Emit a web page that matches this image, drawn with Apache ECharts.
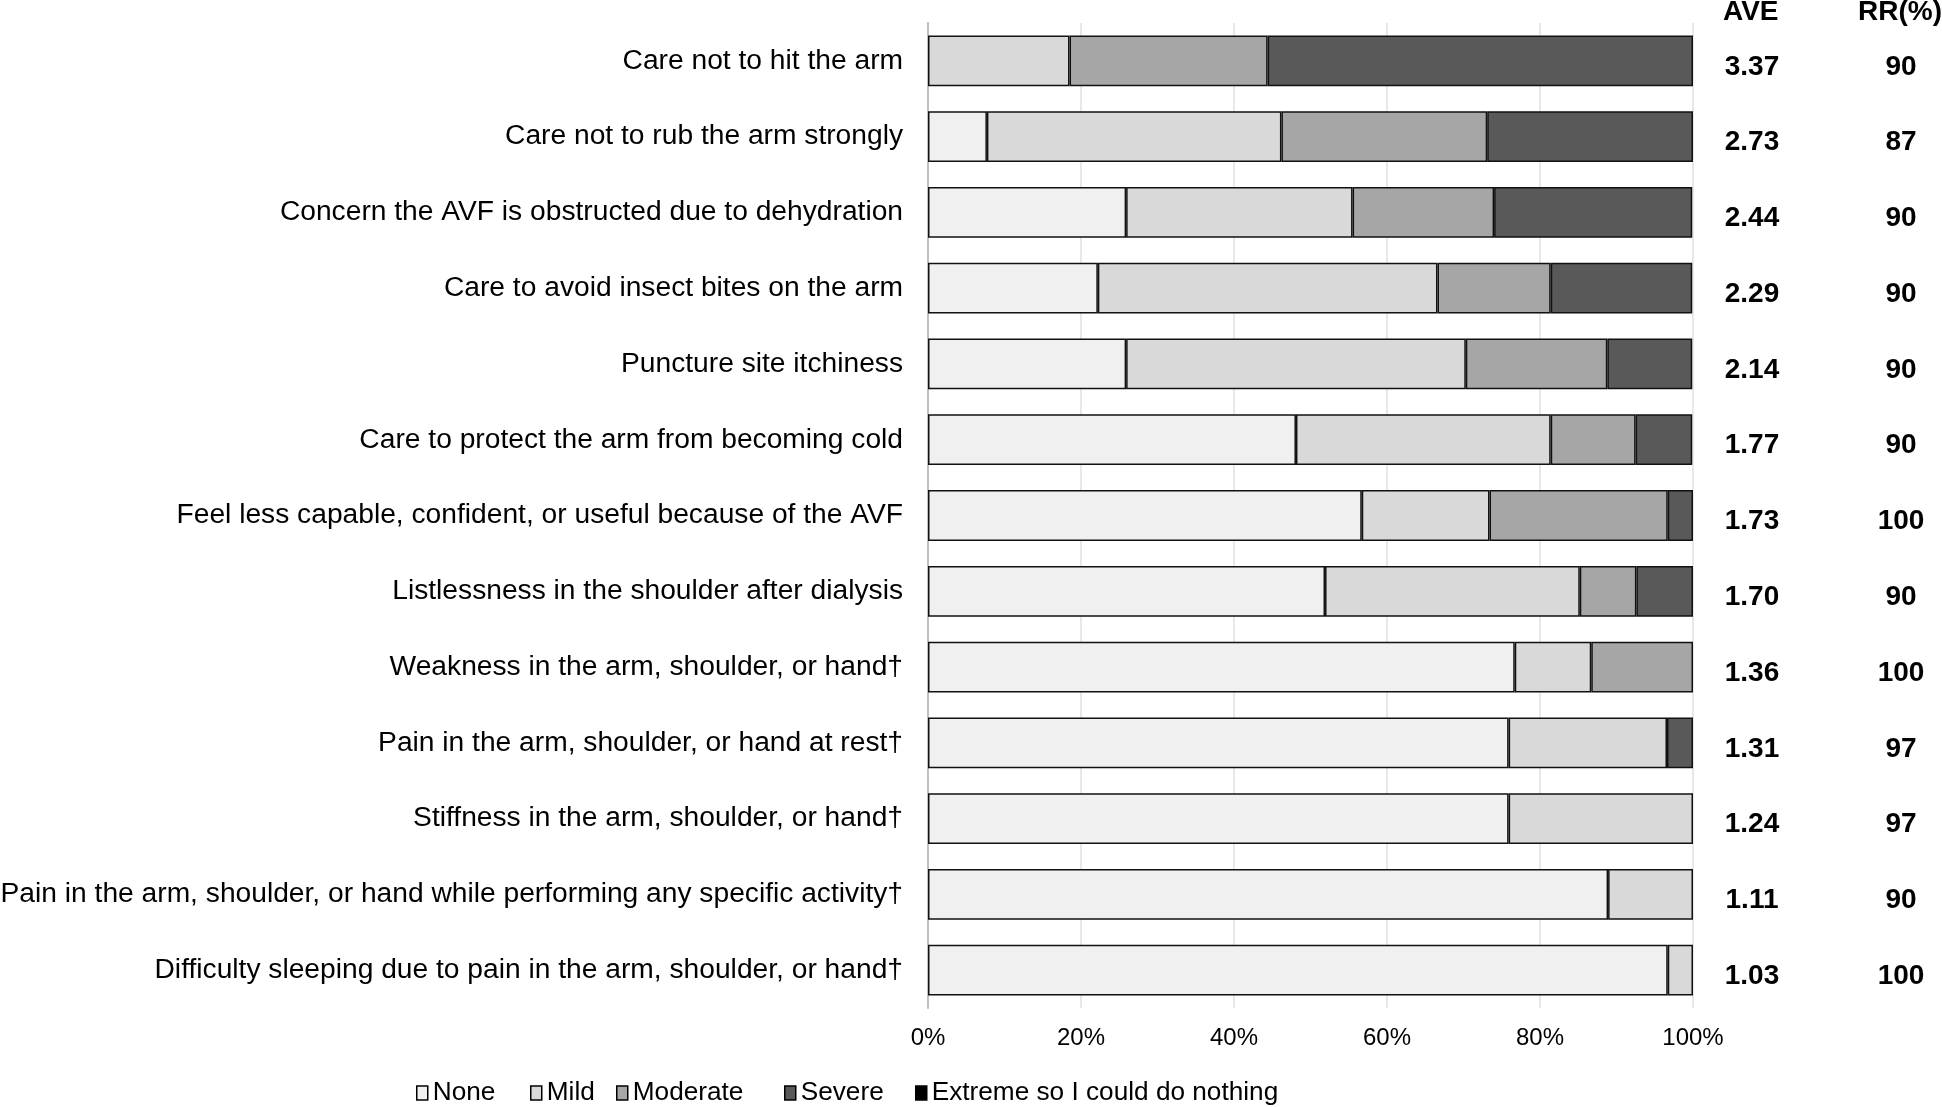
<!DOCTYPE html>
<html>
<head>
<meta charset="utf-8">
<script src="https://cdn.jsdelivr.net/npm/echarts@6/dist/echarts.min.js"></script>
<style>
html,body{margin:0;padding:0;background:#fff;}
#chart{width:1942px;height:1107px;}
</style>
</head>
<body>
<div id="chart"></div>
<script>
const categories = [
  "Care not to hit the arm",
  "Care not to rub the arm strongly",
  "Concern the AVF is obstructed due to dehydration",
  "Care to avoid insect bites on the arm",
  "Puncture site itchiness",
  "Care to protect the arm from becoming cold",
  "Feel less capable, confident, or useful because of the AVF",
  "Listlessness in the shoulder after dialysis",
  "Weakness in the arm, shoulder, or hand\u2020",
  "Pain in the arm, shoulder, or hand at rest\u2020",
  "Stiffness in the arm, shoulder, or hand\u2020",
  "Pain in the arm, shoulder, or hand while performing any specific activity\u2020",
  "Difficulty sleeping due to pain in the arm, shoulder, or hand\u2020"
];
const noneVals     = [0, 7.7, 25.9, 22.2, 25.9, 48.1, 56.7, 51.9, 76.7, 75.9, 75.9, 88.9, 96.7];
const mildVals     = [18.5, 38.5, 29.6, 44.4, 44.4, 33.3, 16.7, 33.3, 10.0, 20.7, 24.1, 11.1, 3.3];
const moderateVals = [25.9, 26.9, 18.5, 14.8, 18.5, 11.1, 23.3, 7.4, 13.3, 0, 0, 0, 0];
const severeVals   = [55.6, 26.9, 25.9, 18.5, 11.1, 7.4, 3.3, 7.4, 0, 3.4, 0, 0, 0];
const extremeVals  = [0, 0, 0, 0, 0, 0, 0, 0, 0, 0, 0, 0, 0];
const aveVals = ["3.37", "2.73", "2.44", "2.29", "2.14", "1.77", "1.73", "1.70", "1.36", "1.31", "1.24", "1.11", "1.03"];
const rrVals  = ["90", "87", "90", "90", "90", "90", "100", "90", "100", "97", "97", "90", "100"];
const xTicks = [0, 20, 40, 60, 80, 100];
const seriesNames = ["None", "Mild", "Moderate", "Severe", "Extreme so I could do nothing"];
const seriesColors = ["#f0f0f0", "#d9d9d9", "#a6a6a6", "#595959", "#000000"];

const FONT = "'Liberation Sans', Arial, Helvetica, sans-serif";
const chart = echarts.init(document.getElementById('chart'), null, {renderer: 'canvas'});

const seriesData = [noneVals, mildVals, moderateVals, severeVals, extremeVals];
const series = seriesData.map((d, i) => ({
  name: seriesNames[i],
  type: 'bar',
  stack: 'total',
  barWidth: '67%',
  xAxisIndex: 0, yAxisIndex: 0,
  data: d.map(v => v === 0 ? null : v),
  itemStyle: { color: seriesColors[i], borderColor: '#111', borderWidth: 1.5 },
  emphasis: { disabled: true }
}));

const legendLefts = [416, 530, 616, 784, 915];
const legends = seriesNames.map((n, i) => ({
  data: [n],
  left: legendLefts[i], top: 1080,
  padding: 0,
  icon: 'rect',
  itemWidth: 11, itemHeight: 14, itemGap: 0,
  selectedMode: false,
  textStyle: { fontFamily: FONT, fontSize: 26.2, color: '#000' },
  itemStyle: { borderColor: '#000', borderWidth: 1.5 }
}));

chart.setOption({
  animation: false,
  backgroundColor: '#fff',
  textStyle: { fontFamily: FONT, color: '#000' },
  grid: [
    { left: 928, right: 249, top: 23, bottom: 99, containLabel: false, outerBoundsMode: 'none' },
    { left: 928, right: 249, top: 29, bottom: 93, containLabel: false, outerBoundsMode: 'none' }
  ],
  legend: legends,
  graphic: [
    { type: 'text', left: 1723, top: -2, style: { text: 'AVE', font: "bold 28px " + FONT, fill: '#000' } },
    { type: 'text', left: 1858, top: -2, style: { text: 'RR(%)', font: "bold 28px " + FONT, fill: '#000' } }
  ],
  xAxis: [
    {
      type: 'value', min: 0, max: 100, interval: 20, gridIndex: 0,
      axisLine: { show: false }, axisTick: { show: false },
      splitLine: { show: true, lineStyle: { color: '#e0e0e0', width: 1.5 } },
      axisLabel: { formatter: v => xTicks.includes(v) ? v + '%' : '', fontSize: 24, color: '#000', margin: 18, fontFamily: FONT }
    },
    {
      type: 'value', min: 0, max: 100, gridIndex: 1, show: false
    }
  ],
  yAxis: [
    {
      type: 'category', data: categories, inverse: true, gridIndex: 0,
      axisLine: { show: true, lineStyle: { color: '#c0c0c0', width: 2 } },
      axisTick: { show: false },
      axisLabel: { fontSize: 28.2, color: '#000', margin: 25, fontFamily: FONT }
    },
    {
      type: 'category', data: aveVals, inverse: true, position: 'right', gridIndex: 1,
      axisLine: { show: false }, axisTick: { show: false }, splitLine: { show: false },
      axisLabel: { fontSize: 28, fontWeight: 'bold', color: '#000', margin: 59, align: 'center', fontFamily: FONT }
    },
    {
      type: 'category', data: rrVals, inverse: true, position: 'right', offset: 0, gridIndex: 1,
      axisLine: { show: false }, axisTick: { show: false }, splitLine: { show: false },
      axisLabel: { fontSize: 28, fontWeight: 'bold', color: '#000', margin: 208, align: 'center', fontFamily: FONT }
    }
  ],
  series: series
});
</script>
</body>
</html>
